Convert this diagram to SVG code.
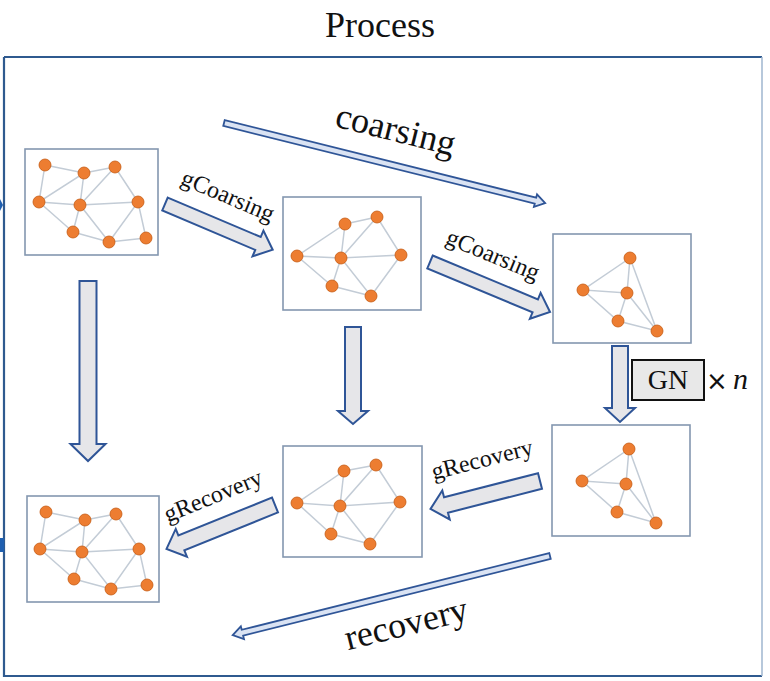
<svg xmlns="http://www.w3.org/2000/svg" width="770" height="681" viewBox="0 0 770 681">
<style>
.box{fill:#ffffff;stroke:#8497b0;stroke-width:1.6}
.e{stroke:#c3ccd6;stroke-width:1.5;fill:none}
.n{fill:#ed7d31;stroke:#c55a11;stroke-width:0.8}
.blk{fill:#e6e6e9;stroke:#2f5597;stroke-width:2;stroke-linejoin:miter}
.thin{fill:#dae3f3;stroke:#2f5597;stroke-width:1.8}
.t{font-family:"Liberation Serif","Times New Roman",serif;fill:#111}
</style>
<rect width="770" height="681" fill="#ffffff"/>
<text class="t" x="380" y="37" font-size="36" text-anchor="middle">Process</text>
<g id="frame">
<path d="M4,57 L4,676 L762,676" fill="none" stroke="#2f5a8f" stroke-width="2.2"/>
<path d="M4,57 L762,57" fill="none" stroke="#2f5a8f" stroke-width="2.2"/>
<path d="M762,57 L762,676" fill="none" stroke="#9fb6cf" stroke-width="1.5"/>
<path d="M0,199 L3,205 L0,211 Z" fill="#1f5fb0"/>
<rect x="0" y="538" width="4" height="14" fill="#1f5fb0"/>
</g>

<g id="graph1">
<rect class="box" x="25" y="149" width="133" height="106"/>
<path class="e" d="M45,165 L84,173 L115,167 M45,165 L39,202 L84,173 L80,205 L115,167 L138,202 M39,202 L80,205 L138,202 M39,202 L73,232 L80,205 L109,242 L138,202 L146,238 M73,232 L109,242 L146,238"/>
<circle class="n" cx="45" cy="165" r="6"/><circle class="n" cx="84" cy="173" r="6"/><circle class="n" cx="115" cy="167" r="6"/>
<circle class="n" cx="39" cy="202" r="6"/><circle class="n" cx="80" cy="205" r="6"/><circle class="n" cx="138" cy="202" r="6"/>
<circle class="n" cx="73" cy="232" r="6"/><circle class="n" cx="109" cy="242" r="6"/><circle class="n" cx="146" cy="238" r="6"/>
</g>

<g id="graph2">
<rect class="box" x="283" y="197" width="138" height="113"/>
<path class="e" d="M345,224 L377,217 M345,224 L297,256 L341,258 L345,224 M377,217 L341,258 L401,255 L377,217 M297,256 L332,286 L341,258 L371,296 L401,255 M332,286 L371,296"/>
<circle class="n" cx="345" cy="224" r="6"/><circle class="n" cx="377" cy="217" r="6"/><circle class="n" cx="297" cy="256" r="6"/>
<circle class="n" cx="341" cy="258" r="6"/><circle class="n" cx="401" cy="255" r="6"/><circle class="n" cx="332" cy="286" r="6"/>
<circle class="n" cx="371" cy="296" r="6"/>
</g>

<g id="graph3">
<rect class="box" x="553" y="234" width="138" height="109"/>
<path class="e" d="M630,258 L583,290 L627,293 L630,258 L657,331 L618,321 L583,290 M627,293 L618,321 M627,293 L657,331"/>
<circle class="n" cx="630" cy="258" r="6"/><circle class="n" cx="583" cy="290" r="6"/><circle class="n" cx="627" cy="293" r="6"/>
<circle class="n" cx="618" cy="321" r="6"/><circle class="n" cx="657" cy="331" r="6"/>
</g>

<g id="graph4">
<rect class="box" x="552" y="425" width="138" height="111"/>
<path class="e" d="M629,449 L582,481 L626,484 L629,449 L656,523 L617,512 L582,481 M626,484 L617,512 M626,484 L656,523"/>
<circle class="n" cx="629" cy="449" r="6"/><circle class="n" cx="582" cy="481" r="6"/><circle class="n" cx="626" cy="484" r="6"/>
<circle class="n" cx="617" cy="512" r="6"/><circle class="n" cx="656" cy="523" r="6"/>
</g>

<g id="graph5">
<rect class="box" x="283" y="446" width="139" height="111"/>
<path class="e" d="M344,471 L376,465 M344,471 L297,503 L340,506 L344,471 M376,465 L340,506 L400,502 L376,465 M297,503 L331,534 L340,506 L370,544 L400,502 M331,534 L370,544"/>
<circle class="n" cx="344" cy="471" r="6"/><circle class="n" cx="376" cy="465" r="6"/><circle class="n" cx="297" cy="503" r="6"/>
<circle class="n" cx="340" cy="506" r="6"/><circle class="n" cx="400" cy="502" r="6"/><circle class="n" cx="331" cy="534" r="6"/>
<circle class="n" cx="370" cy="544" r="6"/>
</g>

<g id="graph6">
<rect class="box" x="27" y="496" width="132" height="106"/>
<path class="e" d="M46,512 L85,520 L116,514 M46,512 L40,549 L85,520 L82,552 L116,514 L139,549 M40,549 L82,552 L139,549 M40,549 L74,579 L82,552 L111,589 L139,549 L147,585 M74,579 L111,589 L147,585"/>
<circle class="n" cx="46" cy="512" r="6"/><circle class="n" cx="85" cy="520" r="6"/><circle class="n" cx="116" cy="514" r="6"/>
<circle class="n" cx="40" cy="549" r="6"/><circle class="n" cx="82" cy="552" r="6"/><circle class="n" cx="139" cy="549" r="6"/>
<circle class="n" cx="74" cy="579" r="6"/><circle class="n" cx="111" cy="589" r="6"/><circle class="n" cx="147" cy="585" r="6"/>
</g>

<g id="gn">
<rect x="632" y="360" width="72" height="40" fill="#e8e8e8" stroke="#111" stroke-width="2"/>
<text class="t" x="668" y="389" font-size="28" text-anchor="middle">GN</text>
<text x="706" y="390" font-size="26" font-family="DejaVu Sans, sans-serif" fill="#111">×</text>
<text class="t" x="733" y="389" font-size="30" font-style="italic">n</text>
</g>

<g id="connectors">
<path class="blk" transform="translate(165,204) rotate(23)" d="M0,-7 L101,-7 L101,-14 L117,0 L101,14 L101,7 L0,7 Z"/>
<path class="blk" transform="translate(430,262) rotate(22.6)" d="M0,-7 L114,-7 L114,-14 L130,0 L114,14 L114,7 L0,7 Z"/>
<path class="blk" transform="translate(88,281) rotate(90)" d="M0,-8.5 L163,-8.5 L163,-17.5 L180,0 L163,17.5 L163,8.5 L0,8.5 Z"/>
<path class="blk" transform="translate(353,327) rotate(90)" d="M0,-8 L84,-8 L84,-15 L97,0 L84,15 L84,8 L0,8 Z"/>
<path class="blk" transform="translate(620,346) rotate(90)" d="M0,-8 L62,-8 L62,-15 L76,0 L62,15 L62,8 L0,8 Z"/>
<path class="blk" transform="translate(540,481) rotate(165.7)" d="M0,-8 L97,-8 L97,-15 L113,0 L97,15 L97,8 L0,8 Z"/>
<path class="blk" transform="translate(275,505) rotate(158)" d="M0,-8 L101,-8 L101,-15 L117,0 L101,15 L101,8 L0,8 Z"/>
<path class="thin" transform="translate(224,123) rotate(14)" d="M0,-3 L321,-3 L321,-6.5 L331,0 L321,6.5 L321,3 L0,3 Z"/>
<path class="thin" transform="translate(550,556) rotate(166)" d="M0,-3 L317,-3 L317,-6.5 L327,0 L317,6.5 L317,3 L0,3 Z"/>
</g>

<g id="labels">
<text class="t" font-size="24" text-anchor="middle" transform="translate(225,203) rotate(23)">gCoarsing</text>
<text class="t" font-size="24" text-anchor="middle" transform="translate(490,262) rotate(22.6)">gCoarsing</text>
<text class="t" font-size="24" text-anchor="middle" transform="translate(484,467) rotate(-14.3)">gRecovery</text>
<text class="t" font-size="24" text-anchor="middle" transform="translate(216,503) rotate(-22)">gRecovery</text>
<text class="t" font-size="36" text-anchor="middle" transform="translate(393,141) rotate(14)">coarsing</text>
<text class="t" font-size="36" text-anchor="middle" transform="translate(409,635) rotate(-14)">recovery</text>
</g>
</svg>
